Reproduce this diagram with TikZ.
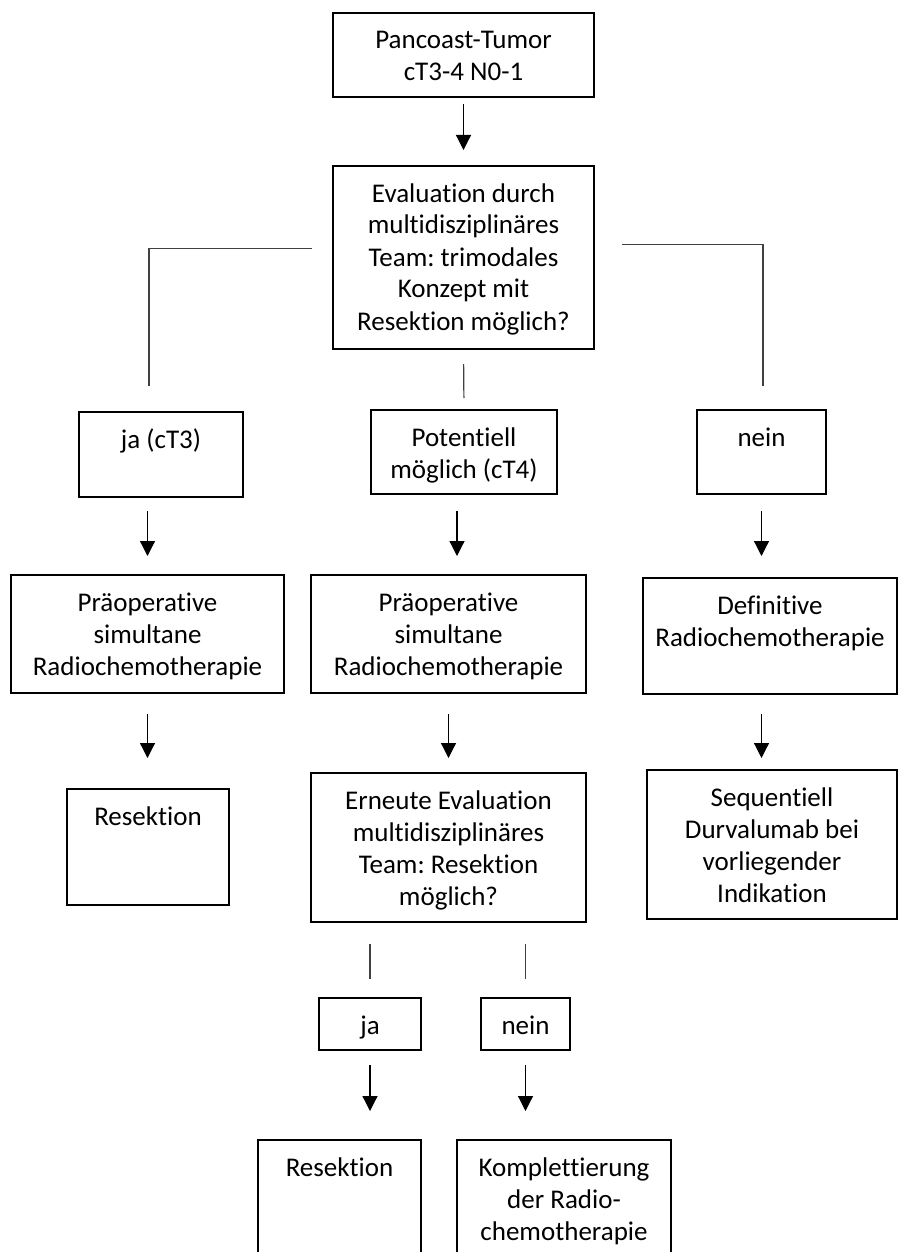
\documentclass[tikz,border=0pt]{standalone}
\usepackage{fontspec}
\setmainfont{Carlito}[Ligatures=NoCommon]
\frenchspacing
\usetikzlibrary{arrows.meta}
\tikzset{
  box/.style={draw, line width=2pt, inner sep=0pt, anchor=north west, font=\fontsize{27}{32}\selectfont},
  arr/.style={line width=1.2pt, -{Triangle[length=15pt,width=15pt]}},
  link/.style={line width=1.2pt, black!75},
}
\newcommand{\boxtext}[3]{\parbox[t][#2pt][t]{#1pt}{\centering\rule{0pt}{36pt}#3}}
\begin{document}
\begin{tikzpicture}[x=1pt, y=-1pt]
    \useasboundingbox (0,0) rectangle (898,1252);
    % Start and first evaluation
    \node[box] (pan) at (332,12) {\boxtext{261}{84}{Pancoast-Tumor\\cT3-4 N0-1}};
    \node[box] (eval) at (332,165) {\boxtext{261}{183}{Evaluation durch\\multidisziplinäres\\Team: trimodales\\Konzept mit\\Resektion möglich?}};
    % Three answers
    \node[box] (ja) at (78,411) {\boxtext{164}{85}{ja (cT3)}};
    \node[box] (pot) at (370,409) {\boxtext{186}{84}{Potentiell\\möglich (cT4)}};
    \node[box] (nein) at (696,409) {\boxtext{129}{84}{nein}};
    % Therapy row
    \node[box] (preA) at (10,574) {\boxtext{273}{118}{Präoperative\\simultane\\Radiochemotherapie}};
    \node[box] (preB) at (310,574) {\boxtext{275}{118}{Präoperative\\simultane\\Radiochemotherapie}};
    \node[box] (def) at (642,577) {\boxtext{254}{116}{Definitive\\Radiochemotherapie}};
    \node[box] (resA) at (66,788) {\boxtext{162}{116}{Resektion}};
    \node[box] (ern) at (310,772) {\boxtext{275}{149}{Erneute Evaluation\\multidisziplinäres\\Team: Resektion\\möglich?}};
    \node[box] (seq) at (646,769) {\boxtext{250}{149}{Sequentiell\\Durvalumab bei\\vorliegender\\Indikation}};
    % Second decision
    \node[box] (jaB) at (318,997) {\boxtext{102}{52}{\vspace*{-2pt}ja}};
    \node[box] (neinB) at (480,997) {\boxtext{89}{52}{\vspace*{-2pt}nein}};
    \node[box] (resB) at (257,1139) {\boxtext{163}{131}{Resektion}};
    \node[box] (kompl) at (456,1139) {\boxtext{214}{131}{Komplettierung\\der Radio-\\chemotherapie}};
    % Connectors
    \draw[arr, shorten <=6pt, shorten >=15pt] (pan.south) -- (eval.north);
    \draw[link] ([xshift=-20pt,yshift=9pt]eval.west) -| ([xshift=-12pt,yshift=25pt]ja.north);
    \draw[link] ([xshift=27pt,yshift=13pt]eval.east) -| ([xshift=1.5pt,yshift=23pt]nein.north);
    \draw[link, shorten <=14pt, shorten >=11pt] (eval.south) -- (pot.north);
    \draw[arr, shorten <=13pt, shorten >=18pt] (ja.south -| preA.north) -- (preA.north);
    \draw[arr, shorten <=16pt, shorten >=18pt] ([xshift=-7pt]pot.south) -- ([xshift=-7pt]pot.south |- preB.north);
    \draw[arr, shorten <=16pt, shorten >=21pt] (nein.south) -- (nein.south |- def.north);
    \draw[arr, shorten <=20pt, shorten >=30pt] (preA.south) -- (preA.south |- resA.north);
    \draw[arr, shorten <=20pt, shorten >=14pt] (preB.south) -- (preB.south |- ern.north);
    \draw[arr, shorten <=19pt, shorten >=11pt] (nein.south |- def.south) -- (nein.south |- seq.north);
    \draw[link, shorten <=21pt, shorten >=18pt] (jaB.north |- ern.south) -- (jaB.north);
    \draw[link, shorten <=21pt, shorten >=18pt] (neinB.north |- ern.south) -- (neinB.north);
    \draw[arr, shorten <=14pt, shorten >=28pt] (jaB.south) -- (jaB.south |- resB.north);
    \draw[arr, shorten <=14pt, shorten >=28pt] (neinB.south) -- (neinB.south |- kompl.north);
\end{tikzpicture}
\end{document}
